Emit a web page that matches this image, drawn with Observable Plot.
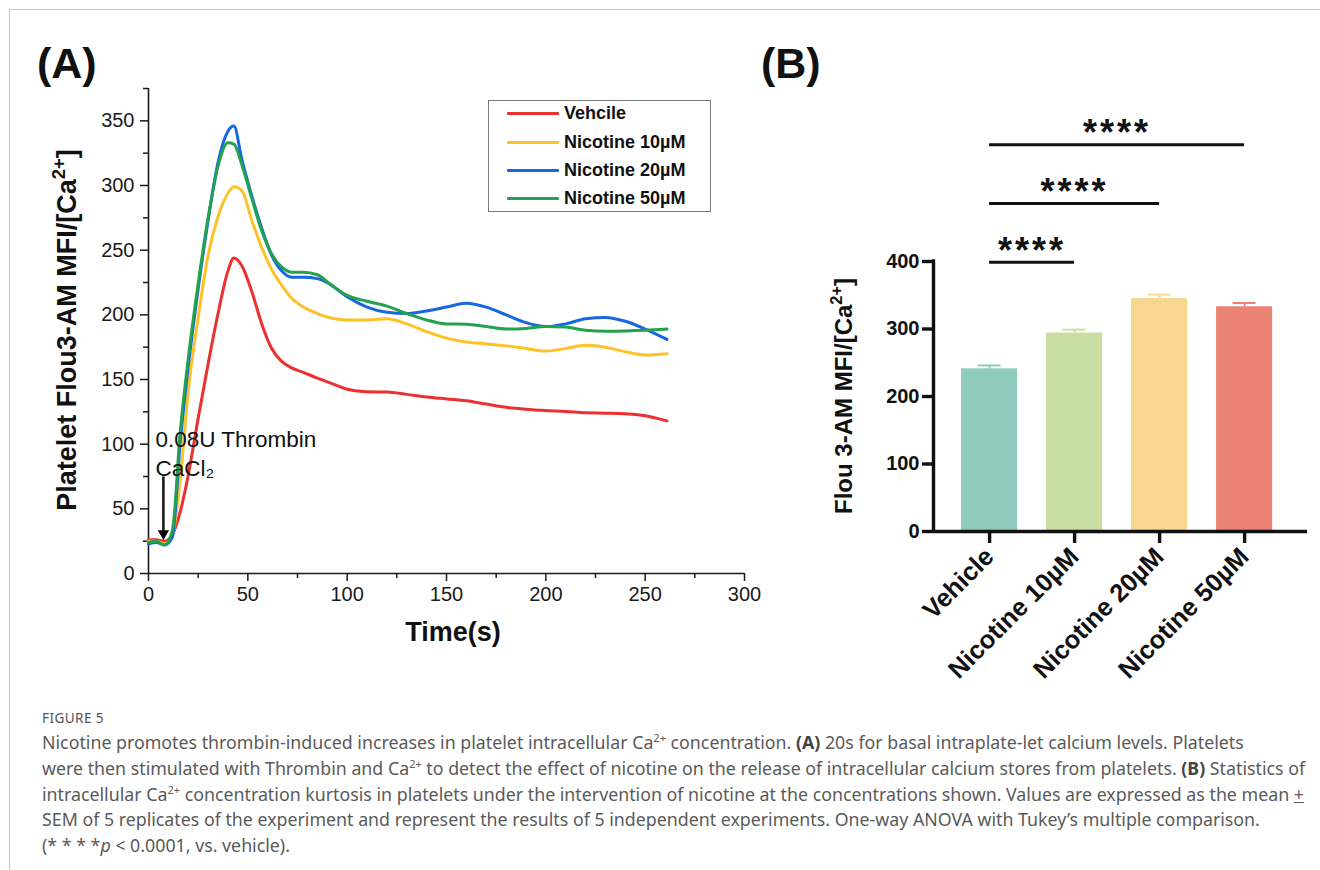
<!DOCTYPE html>
<html><head><meta charset="utf-8">
<script src="https://cdn.jsdelivr.net/npm/d3@7"></script>
<script src="https://cdn.jsdelivr.net/npm/@observablehq/plot@0.6"></script>
<style>
body{margin:0;background:#fff;width:1320px;height:870px;position:relative;overflow:hidden;font-family:"Liberation Sans",Arial,sans-serif;}
#frame{position:absolute;left:9px;top:9px;right:-2px;bottom:-2px;border-left:1px solid #c8c8c8;border-top:1px solid #c8c8c8;}
#panelA{position:absolute;left:0;top:0;}
#panelB{position:absolute;left:780px;top:0;}
.tag{position:absolute;font-weight:bold;font-size:43px;line-height:1;color:#111;}
#legend{position:absolute;left:488px;top:100px;width:221px;height:110px;border:1px solid #7a7a7a;background:#fff;}
#legend .row{position:absolute;left:0;height:20px;display:flex;align-items:center;}
#legend .sw{width:52px;height:3px;margin-left:18px;margin-right:5px;border-radius:1px;}
#legend .lb{font-weight:bold;font-size:18px;color:#111;white-space:nowrap;}
#figlabel{position:absolute;left:42px;top:708px;font-family:"Noto Sans",sans-serif;font-size:13.6px;color:#555;letter-spacing:0.4px;}
#caption{position:absolute;left:42px;top:730px;font-family:"Noto Sans",sans-serif;font-size:17.8px;line-height:25.8px;color:#5a5a5a;white-space:nowrap;}
#caption sup{font-size:11px;line-height:0;vertical-align:7px;}
#caption b{color:#444;}
</style></head>
<body>
<div id="frame"></div>
<div id="panelA"></div>
<div id="panelB"></div>
<div class="tag" style="left:37px;top:42px;">(A)</div>
<div class="tag" style="left:761px;top:42px;">(B)</div>
<div id="legend"></div>
<div id="figlabel">FIGURE 5</div>
<div id="caption"></div>
<script>
// ---------- Panel A data ----------
const time = [0, 4, 8, 12, 16, 20, 25, 30, 35, 40, 43, 47, 52, 57, 62, 67, 72, 78, 85, 92, 100, 110, 120, 130, 140, 150, 160, 170, 180, 190, 200, 210, 220, 230, 240, 250, 261];
const vehicle    = [26, 26, 25, 30, 48, 76, 120, 162, 201, 234, 244, 238, 218, 193, 174, 164, 159, 155.5, 151, 147, 142.5, 140.5, 140.3, 138.5, 136.5, 135, 133.5, 131, 128.5, 127, 126, 125.3, 124.2, 124, 123.6, 122, 118];
const nicotine10 = [25, 25, 23, 30, 73, 141, 198, 246, 276, 294, 299, 296, 273, 252, 235, 223, 213, 206, 201, 197.5, 196, 196, 197, 193, 187, 182, 179, 177.5, 176, 174, 172, 174, 176.5, 175, 171.5, 169, 170];
const nicotine20 = [23, 24, 22, 28, 102, 160, 220, 273, 318, 342, 346, 320, 292, 267, 246, 234, 229, 229, 228, 223, 214, 206, 202, 201, 203, 206, 209, 206, 200, 194, 191, 193, 197, 198, 195, 189, 181];
const nicotine50 = [24, 25, 22, 33, 110, 166, 224, 275, 315, 333, 332, 316, 290, 265, 247, 237, 233, 233, 231, 223, 215, 210.5, 206.7, 201, 196, 193, 192.7, 191, 189, 189.5, 191, 190.5, 188, 187.3, 187.5, 188, 189];
const seriesNames  = ["Vehcile", "Nicotine 10µM", "Nicotine 20µM", "Nicotine 50µM"];
const seriesColors = ["#ec2f2f", "#fec228", "#1766e2", "#22a24f"];
const xMajor = [0, 50, 100, 150, 200, 250, 300];
const xMinor = [25, 75, 125, 175, 225, 275];
const yMajor = [0, 50, 100, 150, 200, 250, 300, 350];
const yMinor = [25, 75, 125, 175, 225, 275, 325, 375];
const annotLines = ["0.08U Thrombin", "CaCl₂"];
const annotX = [3.5, 3.5];
const annotY = [103, 81];
const arrowX = 7.5, arrowTop = 70, arrowTip = 27;

// ---------- Panel B data ----------
const groups = ["Vehicle", "Nicotine 10µM", "Nicotine 20µM", "Nicotine 50µM"];
const means = [241, 294, 345, 333];
const sems = [5, 5, 6, 5.5];
const barColors = ["#8ecabd", "#c8dea3", "#f7d68f", "#eb8375"];
const yTicksB = [0, 100, 200, 300, 400];
const compFrom = ["Vehicle", "Vehicle", "Vehicle"];
const compTo = ["Nicotine 10µM", "Nicotine 20µM", "Nicotine 50µM"];
const compY = [399, 486, 573];
const compLabel = ["****", "****", "****"];

const FONT = "Liberation Sans, Arial, sans-serif";

// ---------- Panel A ----------
const series = [vehicle, nicotine10, nicotine20, nicotine50];
const rows = [];
series.forEach((vals, k) => time.forEach((t, i) => rows.push({t, v: vals[i], name: seriesNames[k]})));
const annot = annotLines.map((label, i) => ({label, x: annotX[i], y: annotY[i]}));
const arrow = [{x: arrowX, top: arrowTop, tip: arrowTip}];

const plotA = Plot.plot({
  width: 780, height: 680,
  marginLeft: 148, marginRight: 36, marginTop: 88, marginBottom: 107,
  style: {fontFamily: FONT, fontSize: "20px", color: "#1a1a1a", background: "transparent", overflow: "visible"},
  x: {domain: [0, 300], label: null},
  y: {domain: [0, 375], label: null},
  color: {domain: seriesNames, range: seriesColors},
  marks: [
    Plot.axisX({ticks: xMajor, tickSize: 8, tickPadding: 5, strokeWidth: 1.5, fontSize: 20, label: null}),
    Plot.axisX({ticks: xMinor, tickSize: 5, text: null, strokeWidth: 1.5, label: null}),
    Plot.axisY({ticks: yMajor, tickSize: 8, tickPadding: 6, strokeWidth: 1.5, fontSize: 20, label: null}),
    Plot.axisY({ticks: yMinor, tickSize: 5, text: null, strokeWidth: 1.5, label: null}),
    Plot.ruleX([0], {strokeWidth: 1.6}),
    Plot.ruleY([0], {strokeWidth: 1.6}),
    Plot.line(rows, {x: "t", y: "v", z: "name", stroke: "name", strokeWidth: 3, curve: "monotone-x"}),
    Plot.ruleX(arrow, {x: "x", y1: "tip", y2: "top", strokeWidth: 2.6, insetBottom: 6}),
    Plot.dot(arrow, {x: "x", y: "tip", symbol: "triangle", fill: "#000", stroke: "none", r: 4.2, rotate: 180, dy: -5}),
    Plot.text(annot, {x: "x", y: "y", text: "label", textAnchor: "start", fontSize: 22.5, fill: "#111"})
  ]
});
document.getElementById("panelA").appendChild(plotA);

// ---------- Panel B ----------
const bars = groups.map((g, i) => ({g, i, mean: means[i], sem: sems[i], color: barColors[i]}));
const comps = compFrom.map((f, k) => ({a: groups.indexOf(f), b: groups.indexOf(compTo[k]), y: compY[k], label: compLabel[k]}));
const barHalf = 0.33, capHalf = 0.135, xMin = -0.66, xMax = 3.74;

const plotB = Plot.plot({
  width: 540, height: 700,
  marginLeft: 153, marginRight: 13, marginTop: 99, marginBottom: 169,
  style: {fontFamily: FONT, fontSize: "20px", color: "#111", background: "transparent", overflow: "visible"},
  x: {domain: [xMin, xMax], label: null},
  y: {domain: [0, 640], label: null},
  color: {type: "identity"},
  marks: [
    Plot.rectY(bars, {x1: d => d.i - barHalf, x2: d => d.i + barHalf, y1: 0, y2: "mean", fill: "color"}),
    Plot.ruleX(bars, {x: "i", y1: "mean", y2: d => d.mean + d.sem, stroke: "color", strokeWidth: 2}),
    Plot.ruleY(bars, {y: d => d.mean + d.sem, x1: d => d.i - capHalf, x2: d => d.i + capHalf, stroke: "color", strokeWidth: 2}),
    Plot.axisY({ticks: yTicksB, tickSize: 11, tickPadding: 3, strokeWidth: 3.4, fontSize: 20, fontWeight: "bold", label: null}),
    Plot.axisX({ticks: bars.map(d => d.i), tickFormat: i => groups[i], tickSize: 12, tickPadding: 9, tickRotate: -45, strokeWidth: 3.4, fontSize: 25.5, fontWeight: "bold", label: null}),
    Plot.ruleX([xMin], {y1: 0, y2: 400, strokeWidth: 3.4, strokeLinecap: "square"}),
    Plot.ruleY([0], {strokeWidth: 3.4}),
    Plot.ruleY(comps, {y: "y", x1: "a", x2: "b", strokeWidth: 3}),
    Plot.text(comps, {x: d => (d.a + d.b) / 2, y: "y", text: "label", dy: -11, fontSize: 36, fontWeight: "bold", fill: "#111"})
  ]
});
document.getElementById("panelB").appendChild(plotB);
d3.select(plotB).selectAll("text").filter(function(){return this.textContent === "****";}).attr("letter-spacing", 3);

// ---------- axis titles with superscripts ----------
function addTitle(svg, {x, y, rotate, size, parts, anchor}) {
  const t = d3.select(svg).append("text")
    .attr("transform", `translate(${x},${y}) rotate(${rotate})`)
    .attr("text-anchor", anchor || "middle")
    .attr("font-family", FONT).attr("font-weight", "bold").attr("font-size", size).attr("fill", "#111");
  parts.forEach(([s, sup]) => {
    const sp = t.append("tspan").text(s);
    if (sup) sp.attr("font-size", size * 0.68).attr("dy", -size * 0.42);
    else if (t.node().childNodes.length > 1) sp.attr("dy", size * 0.42);
  });
}
addTitle(plotA, {x: 76, y: 330, rotate: -90, size: 27, parts: [["Platelet Flou3-AM MFI/[Ca", false], ["2+", true], ["]", false]]});
addTitle(plotA, {x: 453, y: 641, rotate: 0, size: 27, parts: [["Time(s)", false]]});
addTitle(plotB, {x: 72, y: 396, rotate: -90, size: 24, parts: [["Flou 3-AM MFI/[Ca", false], ["2+", true], ["]", false]]});

// ---------- legend ----------
const legend = document.getElementById("legend");
const rowTops = [2, 31, 59, 87];
seriesNames.forEach((n, i) => {
  const r = document.createElement("div");
  r.className = "row"; r.style.top = rowTops[i] + "px";
  r.innerHTML = `<div class="sw" style="background:${seriesColors[i]}"></div><div class="lb">${n}</div>`;
  legend.appendChild(r);
});

// ---------- caption ----------
const captionLines = [
  'Nicotine promotes thrombin-induced increases in platelet intracellular Ca<sup>2+</sup> concentration. <b>(A)</b> 20s for basal intraplate-let calcium levels. Platelets',
  'were then stimulated with Thrombin and Ca<sup>2+</sup> to detect the effect of nicotine on the release of intracellular calcium stores from platelets. <b>(B)</b> Statistics of',
  'intracellular Ca<sup>2+</sup> concentration kurtosis in platelets under the intervention of nicotine at the concentrations shown. Values are expressed as the mean <u>+</u>',
  'SEM of 5 replicates of the experiment and represent the results of 5 independent experiments. One-way ANOVA with Tukey’s multiple comparison.',
  '(* * * *<i>p</i> &lt; 0.0001, vs. vehicle).'
];
document.getElementById("caption").innerHTML = captionLines.join("<br>");
</script>
</body></html>
